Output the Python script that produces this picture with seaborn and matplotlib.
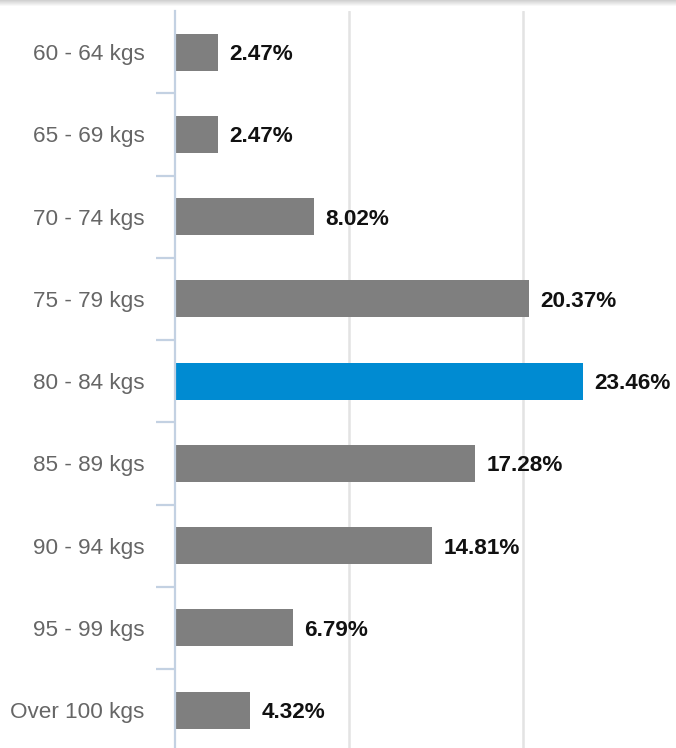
import numpy as np
import matplotlib
matplotlib.use("Agg")
import matplotlib.pyplot as plt
import seaborn as sns

sns.set_theme(style="white")
plt.rcParams["font.family"] = ["Liberation Sans", "DejaVu Sans"]

## DATA
categories = ["60 - 64 kgs", "65 - 69 kgs", "70 - 74 kgs", "75 - 79 kgs", "80 - 84 kgs",
              "85 - 89 kgs", "90 - 94 kgs", "95 - 99 kgs", "Over 100 kgs"]
shares = [2.47, 2.47, 8.02, 20.37, 23.46, 17.28, 14.81, 6.79, 4.32]
highlight = "80 - 84 kgs"

GRAY = "#7f7f7f"
BLUE = "#008bd2"
palette = {c: (BLUE if c == highlight else GRAY) for c in categories}

## PLOT
W, H = 676, 748
fig = plt.figure(figsize=(W / 100, H / 100), dpi=100)
ax = fig.add_axes([175 / W, 0, 1 - 175 / W, (H - 11) / H])

sns.barplot(x=shares, y=categories, hue=categories, palette=palette, legend=False,
            orient="h", width=0.45, edgecolor="none", saturation=1, ax=ax)

ax.set_xlim(0, 28.83)
ax.set_ylim(8.46, -0.5)
ax.set_xticks([10, 20])
ax.set_xticklabels([])
ax.tick_params(axis="x", length=0)
ax.grid(axis="x", color="#e3e3e3", linewidth=1.8)
ax.grid(axis="y", visible=False)

for s in ["top", "right", "bottom"]:
    ax.spines[s].set_visible(False)
ax.spines["left"].set_color("#c3d1e2")
ax.spines["left"].set_linewidth(1.6)

ax.set_yticks(np.arange(len(categories)))
ax.set_yticklabels(categories, color="#666666", fontsize=16.2)
ax.tick_params(axis="y", which="major", length=0, pad=22)
ax.set_yticks(np.arange(len(categories) - 1) + 0.5, minor=True)
ax.tick_params(axis="y", which="minor", length=14, width=1.6, color="#c3d1e2", left=True)
ax.set_xlabel("")
ax.set_ylabel("")

for i, v in enumerate(shares):
    ax.annotate(f"{v:.2f}%", xy=(v, i), xytext=(8, 0), textcoords="offset points",
                va="center_baseline", ha="left", fontsize=16.2, fontweight="bold", color="#111111")

# soft shadow strip along the top edge
sh = fig.add_axes([0, 1 - 7 / H, 1, 7 / H])
grad = np.linspace(0.82, 1.0, 7).reshape(-1, 1)
sh.imshow(np.repeat(grad, 10, axis=1), cmap="gray", vmin=0, vmax=1, aspect="auto")
sh.axis("off")

fig.savefig("out.png", dpi=100)
